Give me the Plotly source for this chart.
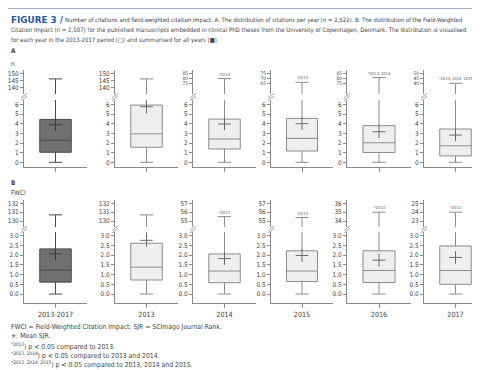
import plotly.graph_objects as go

categories = ["2013-2017", "2013", "2014", "2015", "2016", "2017"]

# Panel A: citations per year
a_min = [0, 0, 0, 0, 0, 0]
a_q1 = [1.04, 1.56, 1.38, 1.17, 1.01, 0.66]
a_median = [2.29, 2.95, 2.41, 2.48, 2.02, 1.71]
a_q3 = [4.44, 5.93, 4.48, 4.55, 3.80, 3.45]
a_mean = [3.89, 5.76, 3.97, 4.00, 3.17, 2.82]
a_max = [146, 146, 80, 66, 81, 40]
a_upper_ticks = [[140, 145, 150], [140, 145, 150], [75, 80, 85], [65, 70, 75], [75, 80, 85], [40, 45, 50]]
a_lower_ticks = [0, 1, 2, 3, 4, 5, 6]
a_sig = ["", "", "*2013", "*2013", "*2013, 2014", "*2013, 2014, 2015"]

# Panel B: field-weighted citation impact
b_min = [0, 0, 0, 0, 0, 0]
b_q1 = [0.61, 0.72, 0.58, 0.64, 0.59, 0.50]
b_median = [1.23, 1.38, 1.18, 1.18, 1.21, 1.21]
b_q3 = [2.32, 2.61, 2.06, 2.22, 2.22, 2.47]
b_mean = [2.06, 2.76, 1.82, 1.98, 1.74, 1.88]
b_max = [130.7, 130.7, 55.5, 55.4, 35.0, 24.0]
b_upper_ticks = [[130, 131, 132], [130, 131, 132], [55, 56, 57], [55, 56, 57], [34, 35, 36], [23, 24, 25]]
b_lower_ticks = [0, 0.5, 1.0, 1.5, 2.0, 2.5, 3.0]
b_sig = ["", "", "*2013", "*2013", "*2013", "*2013"]

W, H = 480, 370
FONT = "Liberation Sans Narrow, DejaVu Sans Condensed, Roboto, sans-serif"
TXT = "#444444"
AX = "#8a8a8a"


def fx(px):
    return px / W


def fy(py):
    return 1 - py / H


col_px = [(16, 79), (107, 170), (185, 248), (263, 325), (339, 403), (416, 479)]

# row geometry: (top_px, bottom_px)
rows = {
    0: (62, 86),      # A upper
    1: (92, 159.3),   # A lower
    2: (192, 219),    # B upper
    3: (224, 295.3),  # B lower
}


def upper_range(ticks, top_tick_px, ppu, top_px, bot_px):
    t = max(ticks)
    hi = t + (top_tick_px - top_px) / ppu
    lo = hi - (bot_px - top_px) / ppu
    return [lo, hi]


fig = go.Figure()
layout = {}
annotations = []
shapes = []

sections = [
    dict(r_up=0, r_lo=1, q1=a_q1, med=a_median, q3=a_q3, mn=a_min, mx=a_max, mean=a_mean,
         upt=a_upper_ticks, lot=a_lower_ticks, sig=a_sig, zero_px=154.3, ppu_lo=9.65,
         labels=False, fmt="d"),
    dict(r_up=2, r_lo=3, q1=b_q1, med=b_median, q3=b_q3, mn=b_min, mx=b_max, mean=b_mean,
         upt=b_upper_ticks, lot=b_lower_ticks, sig=b_sig, zero_px=286.0, ppu_lo=19.45,
         labels=True, fmt=".1f"),
]

for si, s in enumerate(sections):
    for c in range(6):
        dark = (c == 0)
        fill = "#707070" if dark else "#efefef"
        lcol = "#4a4a4a" if dark else "#8c8c8c"
        mcol = "#3a3a3a" if dark else "#6a6a6a"
        up_font = 6.4
        if si == 0:
            if c < 2:
                up_rng = upper_range(s["upt"][c], 65.3, 1.4, *rows[0])
            else:
                up_rng = upper_range(s["upt"][c], 65.8, 0.95, *rows[0])
                up_font = 4.8
        else:
            up_rng = upper_range(s["upt"][c], 195.3, 8.9, *rows[2])
        t_lo, b_lo = rows[s["r_lo"]]
        lo_rng = [-(b_lo - s["zero_px"]) / s["ppu_lo"], (s["zero_px"] - t_lo) / s["ppu_lo"]]

        for r, rng, ticks, tf in [(s["r_up"], up_rng, s["upt"][c], up_font),
                                  (s["r_lo"], lo_rng, s["lot"], 6.4)]:
            idx = r * 6 + c + 1
            xn = "x" if idx == 1 else f"x{idx}"
            yn = "y" if idx == 1 else f"y{idx}"
            xk = "xaxis" if idx == 1 else f"xaxis{idx}"
            yk = "yaxis" if idx == 1 else f"yaxis{idx}"
            top, bot = rows[r]
            is_lower = (r == s["r_lo"])
            layout[xk] = dict(
                domain=[fx(col_px[c][0]), fx(col_px[c][1])], anchor=yn,
                type="category", range=[-0.5, 0.5], fixedrange=True,
                showline=is_lower, linecolor=AX, linewidth=1,
                ticks="outside" if is_lower else "", ticklen=4, tickcolor=AX,
                showticklabels=(is_lower and s["labels"]),
                tickfont=dict(family=FONT, size=7.2, color=TXT),
                showgrid=False, zeroline=False,
            )
            layout[yk] = dict(
                domain=[fy(bot), fy(top)], anchor=xn, range=rng, fixedrange=True,
                tickvals=ticks, tickformat=(s["fmt"] if is_lower else "d"),
                showline=True, linecolor=AX, linewidth=1,
                ticks="outside", ticklen=3, tickcolor=AX,
                tickfont=dict(family=FONT, size=tf, color=TXT),
                showgrid=False, zeroline=False,
            )
            fig.add_trace(go.Box(
                x=[categories[c]], q1=[s["q1"][c]], median=[s["med"][c]], q3=[s["q3"][c]],
                lowerfence=[s["mn"][c]], upperfence=[s["mx"][c]],
                xaxis=xn, yaxis=yn, width=0.5, whiskerwidth=0.42,
                fillcolor=fill, line=dict(color=lcol, width=1),
                boxpoints=False, hoverinfo="skip", showlegend=False,
            ))
            if is_lower:
                fig.add_trace(go.Scatter(
                    x=[categories[c]], y=[s["mean"][c]], mode="markers",
                    xaxis=xn, yaxis=yn, hoverinfo="skip", showlegend=False,
                    marker=dict(symbol="cross-thin", size=9, line=dict(width=1, color=mcol)),
                ))
            else:
                if s["sig"][c]:
                    annotations.append(dict(
                        x=0, y=s["mx"][c], xref=xn, yref=yn,
                        text=s["sig"][c], showarrow=False, xanchor="center",
                        yanchor="bottom", yshift=0,
                        font=dict(family=FONT, size=4.0, color="#555555"),
                    ))
        # break marks
        bx = col_px[c][0]
        by = (rows[s["r_up"]][1] + rows[s["r_lo"]][0]) / 2
        for off in (-1.3, 1.3):
            shapes.append(dict(type="line", xref="paper", yref="paper",
                               x0=fx(bx - 3), y0=fy(by + 2.2 + off),
                               x1=fx(bx + 3), y1=fy(by - 2.2 + off),
                               line=dict(color=AX, width=0.8)))

# frame decorations
shapes.append(dict(type="line", xref="paper", yref="paper", x0=0, x1=1, y0=fy(0.6), y1=fy(0.6),
                   line=dict(color="#9aa8bb", width=1)))
shapes.append(dict(type="rect", xref="paper", yref="paper", x0=0, x1=1, y0=fy(370), y1=fy(366),
                   fillcolor="#1f4f8f", line=dict(width=0)))


def txt(x, y, text, size=6.0, color=TXT, family=FONT):
    annotations.append(dict(x=fx(x), y=fy(y), xref="paper", yref="paper", text=text,
                            showarrow=False, xanchor="left", yanchor="middle",
                            font=dict(family=family, size=size, color=color)))


txt(1, 12, "<b>FIGURE 3 /</b>", size=8.8, color="#1e5aa0", family="DejaVu Sans, sans-serif")
txt(55, 12, "Number of citations and field-weighted citation impact. A. The distribution of citations per year (n = 2,522). B. The distribution of the Field-Weighted", size=5.95)
txt(1, 22, "Citation Impact (n = 2,507) for the published manuscripts embedded in clinical PhD theses from the University of Copenhagen, Denmark. The distribution is visualised", size=6.05)
txt(1, 32, "for each year in the 2013-2017 period (□) and summarised for all years (■).", size=6.0)
txt(1, 43, "<b>A</b>", size=6.4)
txt(1, 56, "n", size=6.4)
txt(1, 175, "<b>B</b>", size=6.4)
txt(1, 185, "FWCI", size=6.4)
txt(1, 319, "FWCI = Field-Weighted Citation Impact; SJR = SCImago Journal Rank.", size=6.8)
txt(1, 328, "+: Mean SJR.", size=6.8)
txt(1, 338, "<sup>*2013</sup>) p < 0.05 compared to 2013.", size=6.8)
txt(1, 347, "<sup>*2013, 2014</sup>) p < 0.05 compared to 2013 and 2014.", size=6.8)
txt(1, 356, "<sup>*2013, 2014, 2015</sup>) p < 0.05 compared to 2013, 2014 and 2015.", size=6.8)

fig.update_layout(
    width=W, height=H, margin=dict(l=0, r=0, t=0, b=0),
    paper_bgcolor="white", plot_bgcolor="white",
    showlegend=False, annotations=annotations, shapes=shapes,
    font=dict(family=FONT, size=6.4, color=TXT),
    **layout,
)

fig.write_html("out.html", config={"displayModeBar": False})
